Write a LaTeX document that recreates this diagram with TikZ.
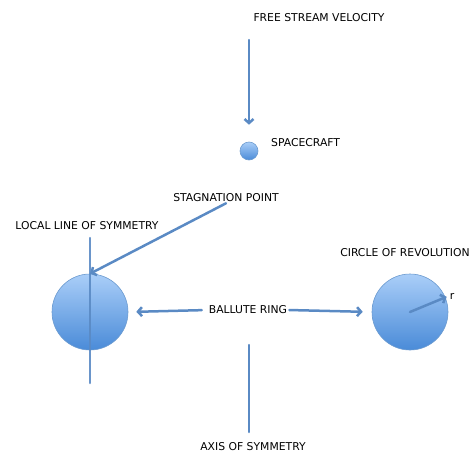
\documentclass[tikz,border=0pt]{standalone}
\usepackage{fontspec}
\setmainfont{DejaVu Sans}
\usetikzlibrary{arrows.meta}

\definecolor{lineblue}{HTML}{5A8AC4}
\definecolor{balltop}{HTML}{AACEF8}
\definecolor{ballbot}{HTML}{4A8BD8}
\definecolor{balledge}{HTML}{6C9BD0}

\tikzset{
  lbl/.style={font=\fontsize{10.8}{12}\selectfont, inner sep=1pt},
  conn/.style={draw=lineblue, line width=2.5pt},
  arr/.style={conn, -{Straight Barb[length=4pt,width=9pt]}},
  ball/.style={circle, draw=balledge, line width=0.6pt, inner sep=0pt,
    top color=balltop, bottom color=ballbot}
}

\begin{document}
\begin{tikzpicture}[x=1pt, y=-1pt, line cap=round, line join=round]

	\useasboundingbox (0,0) rectangle (473,455);

	% ---------- free stream and spacecraft ----------
	\node[lbl] (free) at (319,18) {FREE STREAM VELOCITY};
	\node[ball, minimum size=18pt] (craft) at (249,151) {};
	\node[lbl, anchor=west] (craftlbl) at (270,143) {SPACECRAFT};
	\coordinate (fstail) at (249,40);
	\draw[arr, shorten >=17pt] (fstail) -- (craft.north);

	% ---------- left ring (ballute cross-section) ----------
	\node[ball, minimum size=76pt] (leftring) at (90,312) {};
	\node[lbl] (localsym) at (87,226) {LOCAL LINE OF SYMMETRY};
	\coordinate (lstop) at (90,238);
	\coordinate (lsbot) at (90,383);
	\draw[conn, opacity=0.9] (lstop) -- (lsbot);

	% stagnation point
	\node[lbl] (stag) at (226,198) {STAGNATION POINT};
	\draw[arr] (stag.south) -- (leftring.north);

	% ---------- ballute ring label ----------
	\node[lbl] (ballute) at (248,310) {BALLUTE RING};
	\node[ball, minimum size=76pt] (rightring) at (410,312) {};
	\draw[arr, shorten <=6pt, shorten >=8pt] (ballute.west) -- (leftring.east);
	\draw[arr, shorten <=1pt, shorten >=9pt] (ballute.east) -- (rightring.west);

	% ---------- circle of revolution ----------
	\node[lbl] (circrev) at (405,253) {CIRCLE OF REVOLUTION};
	\node[lbl] (rlbl) at (452,296) {r};
	\draw[arr, shorten >=2pt] (rightring.center) -- (rlbl.west);

	% ---------- axis of symmetry ----------
	\node[lbl] (axislbl) at (253,447) {AXIS OF SYMMETRY};
	\coordinate (axtop) at (249,345);
	\coordinate (axbot) at (249,432);
	\draw[conn] (axtop) -- (axbot);

\end{tikzpicture}
\end{document}
